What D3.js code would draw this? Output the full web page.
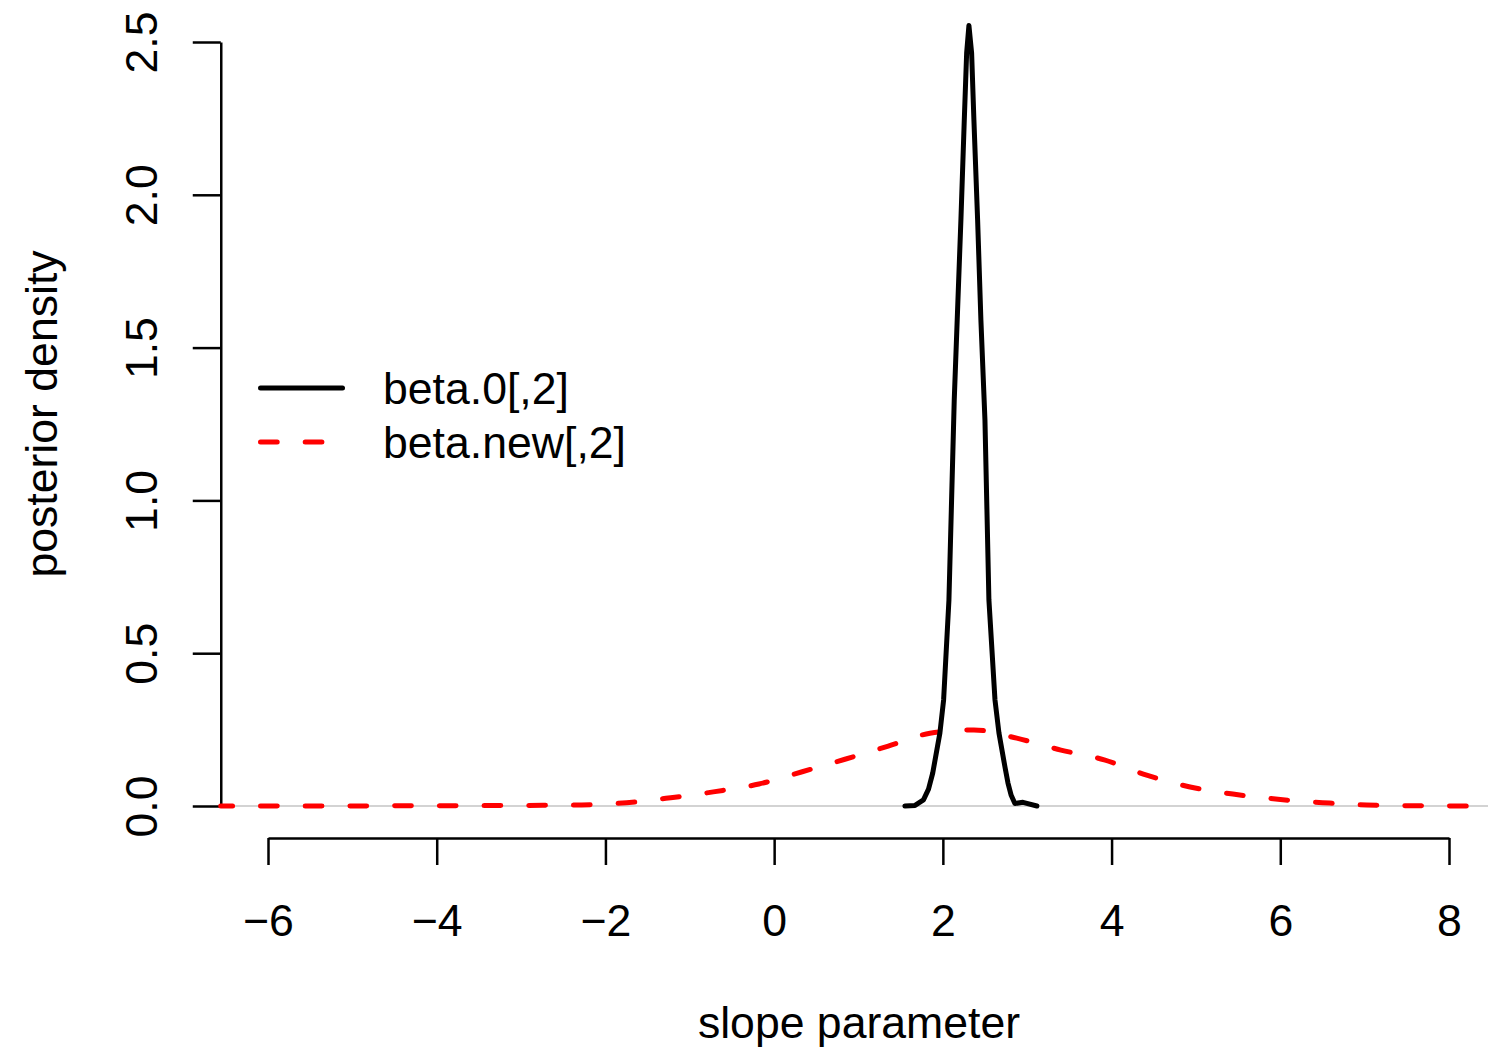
<!DOCTYPE html>
<html>
<head>
<meta charset="utf-8">
<script src="https://cdn.jsdelivr.net/npm/d3@7"></script>
<style>
  body { margin: 0; background: #fff; }
  text { font-family: "Liberation Sans", Arial, Helvetica, sans-serif; fill: #000; }
</style>
</head>
<body>
<svg id="chart"></svg>
<script>
// x positions / density values
var beta0X = [1.55, 1.67, 1.77, 1.83, 1.88, 1.965, 2.009, 2.072, 2.135, 2.214, 2.254, 2.282, 2.309,
              2.341, 2.368, 2.412, 2.451, 2.499, 2.546, 2.618, 2.665, 2.736, 2.772, 2.81, 2.854, 2.95, 3.115];
var beta0Y = [0, 0.002, 0.02, 0.055, 0.108, 0.239, 0.347, 0.674, 1.329, 1.918, 2.245, 2.464, 2.554,
              2.464, 2.245, 1.918, 1.59, 1.263, 0.674, 0.347, 0.239, 0.128, 0.075, 0.035, 0.008, 0.012, 0];

var betaNewX = [-6.56, -5, -4, -3, -2.282, -1.748, -1.227, -0.702, -0.18, 0.333, 0.839, 1.353,
                1.847, 2.368, 2.875, 3.4, 3.913, 4.416, 4.917, 5.438, 5.972, 6.502, 7.023, 7.557, 8.09, 8.25];
var betaNewY = [0, 0.0003, 0.0008, 0.0018, 0.0033, 0.0108, 0.027, 0.047, 0.072, 0.112, 0.153, 0.196,
                0.238, 0.249, 0.222, 0.183, 0.151, 0.101, 0.063, 0.039, 0.022, 0.011, 0.003, 0.001, 0, 0];

var xTicks = [-6, -4, -2, 0, 2, 4, 6, 8];
var yTicks = [0, 0.5, 1, 1.5, 2, 2.5];
var legendLabels = ["beta.0[,2]", "beta.new[,2]"];

var W = 1488, H = 1049, fs = 44.6;

var svg = d3.select("#chart")
  .attr("width", W)
  .attr("height", H);

var x = d3.scaleLinear().domain([-6, 8]).range([268, 1449]);
var y = d3.scaleLinear().domain([0, 2.5]).range([806, 42]);

// grey zero line
svg.append("line")
  .attr("x1", x(-6.56)).attr("x2", W)
  .attr("y1", y(0)).attr("y2", y(0))
  .attr("stroke", "#d3d3d3").attr("stroke-width", 2);

// y axis
var yAxisGroup = svg.append("g").attr("transform", "translate(" + x(-6.56) + ",0)");
yAxisGroup.call(d3.axisLeft(y).tickValues(yTicks).tickSize(28).tickSizeOuter(0)
  .tickFormat(d3.format(".1f")));
yAxisGroup.selectAll("path, line").attr("stroke", "#000").attr("stroke-width", 2.5);
yAxisGroup.selectAll("text")
  .attr("transform", "rotate(-90)")
  .attr("x", 0).attr("y", -64).attr("dy", null)
  .attr("text-anchor", "middle")
  .style("font-size", fs + "px");
yAxisGroup.attr("font-family", null).attr("font-size", null);

// x axis (offset below the plot)
var xAxisGroup = svg.append("g").attr("transform", "translate(0,838)");
xAxisGroup.call(d3.axisBottom(x).tickValues(xTicks).tickSize(27).tickSizeOuter(0)
  .tickFormat(d => d < 0 ? "\u2212" + Math.abs(d) : d));
xAxisGroup.selectAll("path, line").attr("stroke", "#000").attr("stroke-width", 2.5);
xAxisGroup.selectAll("text")
  .attr("y", 98).attr("dy", null)
  .style("font-size", fs + "px");
xAxisGroup.attr("font-family", null).attr("font-size", null);

var line = d3.line().x(d => x(d[0])).y(d => y(d[1]));

// red dashed density
svg.append("path")
  .datum(d3.zip(betaNewX, betaNewY))
  .attr("d", line.curve(d3.curveMonotoneX))
  .attr("fill", "none")
  .attr("stroke", "#ff0000")
  .attr("stroke-width", 5)
  .attr("stroke-linecap", "round")
  .attr("stroke-dasharray", "16.7 28")
  .attr("stroke-dashoffset", 4.9);

// black density
svg.append("path")
  .datum(d3.zip(beta0X, beta0Y))
  .attr("d", line.curve(d3.curveLinear))
  .attr("fill", "none")
  .attr("stroke", "#000")
  .attr("stroke-width", 5)
  .attr("stroke-linejoin", "round")
  .attr("stroke-linecap", "round");

// axis titles
svg.append("text")
  .attr("x", 859).attr("y", 1038)
  .attr("text-anchor", "middle")
  .style("font-size", fs + "px")
  .text("slope parameter");

svg.append("text")
  .attr("transform", "translate(57,414) rotate(-90)")
  .attr("text-anchor", "middle")
  .style("font-size", fs + "px")
  .text("posterior density");

// legend
var legend = svg.append("g");
var rows = [{c: "#000", dash: null, yy: 388}, {c: "#ff0000", dash: "16.7 28", yy: 442}];
rows.forEach(function(r, i) {
  legend.append("line")
    .attr("x1", 260.5).attr("x2", 342.5)
    .attr("y1", r.yy).attr("y2", r.yy)
    .attr("stroke", r.c).attr("stroke-width", 5)
    .attr("stroke-linecap", "round")
    .attr("stroke-dasharray", r.dash);
  legend.append("text")
    .attr("x", 383).attr("y", r.yy + 15.5)
    .style("font-size", fs + "px")
    .text(legendLabels[i]);
});
</script>
</body>
</html>
